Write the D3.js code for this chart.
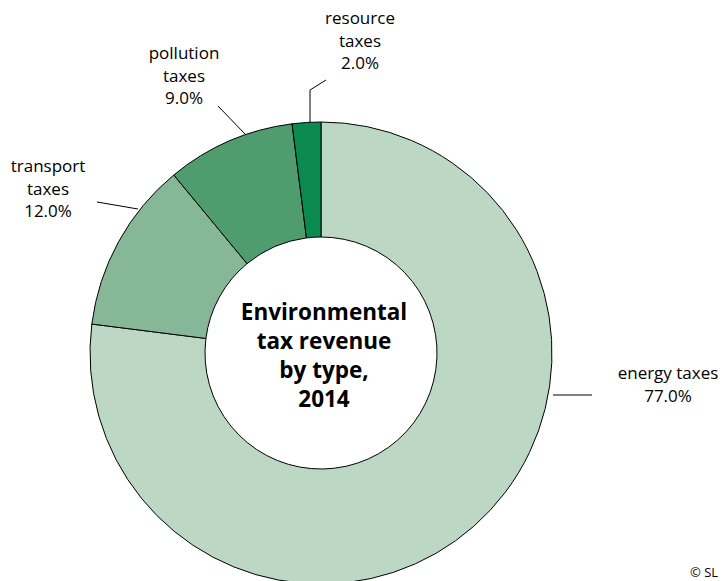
<!DOCTYPE html>
<html><head><meta charset="utf-8">
<script src="https://cdn.jsdelivr.net/npm/d3@7"></script>
<style>body{margin:0;background:#fff;overflow:hidden}svg{display:block}</style>
</head><body>
<svg id="c" width="723" height="581"></svg>
<script>
const categories = ["energy taxes", "transport taxes", "pollution taxes", "resource taxes"];
const labelLines = [["energy taxes"], ["transport", "taxes"], ["pollution", "taxes"], ["resource", "taxes"]];
const shares = [77.0, 12.0, 9.0, 2.0];
const colors = ["#bdd7c5", "#86b797", "#4f9c6f", "#0b8a4f"];
const centerTitle = ["Environmental", "tax revenue", "by type,", "2014"];
const copyright = "© SL";

const svg = d3.select("#c");
const cx = 321, cy = 353, rOut = 231, rIn = 116;
const font = "'Open Sans', 'Noto Sans', sans-serif";

const pie = d3.pie().sort(null).value(d => d)(shares);
const arc = d3.arc().innerRadius(rIn).outerRadius(rOut);
const g = svg.append("g").attr("transform", `translate(${cx},${cy})`);
g.selectAll("path").data(pie).join("path")
  .attr("d", arc)
  .attr("fill", (d, i) => colors[i])
  .attr("stroke", "#000").attr("stroke-width", 1);

const leaders = [
  {pts: [[553,395],[592,395]], tx: 668, ty: 379},
  {pts: [[138,209],[97,202]], tx: 48, ty: 172},
  {pts: [[245,134],[218,106]], tx: 184, ty: 59},
  {pts: [[310,122],[310,90],[326,80]], tx: 360, ty: 24}
];
pie.forEach((d, i) => {
  const L = leaders[i];
  svg.append("polyline")
    .attr("points", L.pts.map(p => p.join(",")).join(" "))
    .attr("fill", "none").attr("stroke", "#000").attr("stroke-width", 1);
  const lines = labelLines[i].concat([d3.format(".1f")(shares[i]) + "%"]);
  const t = svg.append("text").attr("x", L.tx).attr("y", L.ty)
    .attr("text-anchor", "middle").attr("font-family", font)
    .attr("font-size", 17).attr("fill", "#000");
  lines.forEach((s, k) => t.append("tspan").attr("x", L.tx).attr("dy", k === 0 ? 0 : 22.5).text(s));
});

const ct = svg.append("text").attr("x", cx + 3).attr("y", 320)
  .attr("text-anchor", "middle").attr("font-family", font)
  .attr("font-weight", "bold").attr("font-size", 22.5).attr("fill", "#000");
centerTitle.forEach((s, k) => ct.append("tspan").attr("x", cx + 3).attr("dy", k === 0 ? 0 : 29).text(s));

svg.append("text").attr("x", 690).attr("y", 577).attr("font-family", font)
  .attr("font-size", 13).attr("fill", "#000").text(copyright);
</script>
</body></html>
